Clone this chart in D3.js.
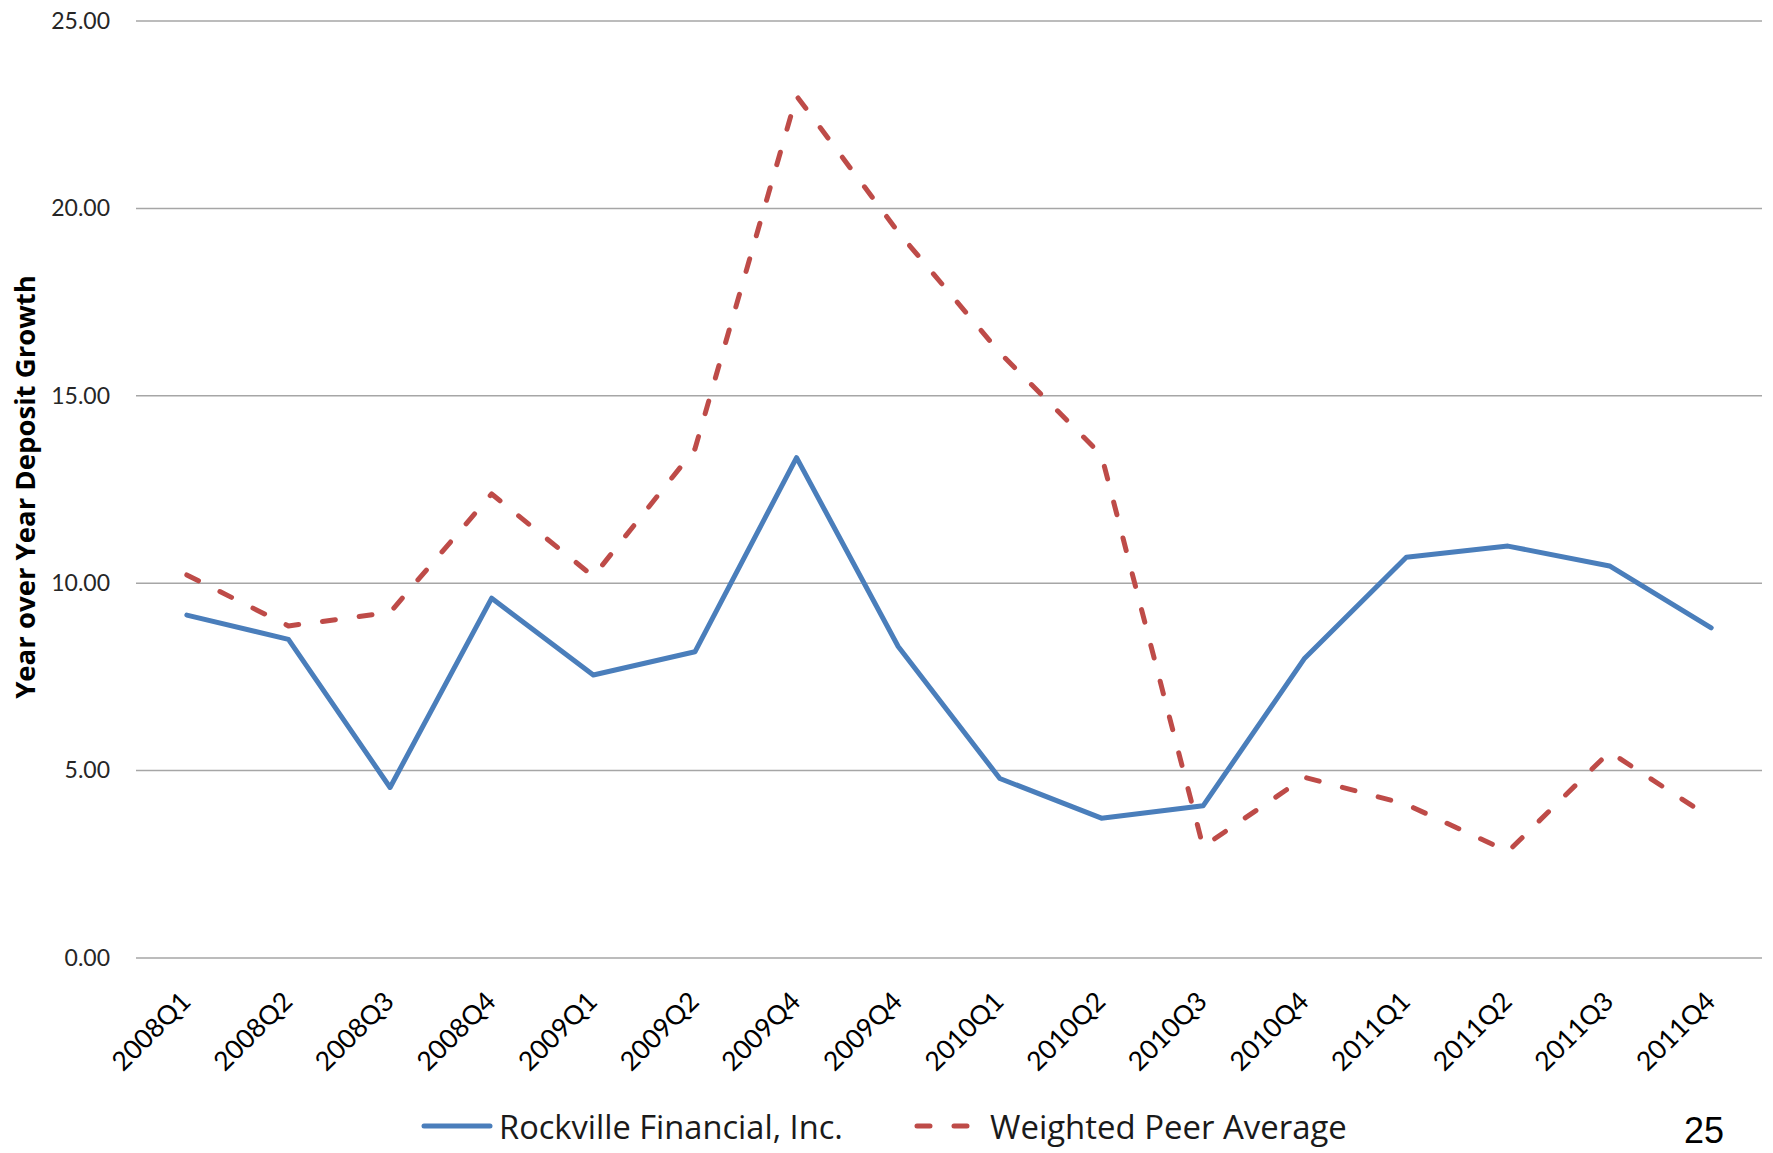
<!DOCTYPE html>
<html>
<head>
<meta charset="utf-8">
<script src="https://cdn.jsdelivr.net/npm/d3@7"></script>
<style>
  html, body { margin: 0; padding: 0; background: #fff; }
  svg { display: block; }
</style>
</head>
<body>
<svg id="chart" width="1773" height="1153"></svg>
<script>
// Quarter labels along the x axis (2009Q4 appears twice in the source series)
const quarters = ["2008Q1","2008Q2","2008Q3","2008Q4","2009Q1","2009Q2","2009Q4","2009Q4",
                  "2010Q1","2010Q2","2010Q3","2010Q4","2011Q1","2011Q2","2011Q3","2011Q4"];

// Year-over-year deposit growth, percent
const rockville = [9.15, 8.50, 4.55, 9.60, 7.55, 8.17, 13.35, 8.31,
                   4.79, 3.73, 4.06, 8.00, 10.69, 10.99, 10.46, 8.81];
const peerAverage = [10.22, 8.86, 9.22, 12.38, 10.18, 13.58, 23.00, 19.37,
                     16.15, 13.42, 2.97, 4.82, 4.10, 2.84, 5.50, 3.73];

const yTicks = [0, 5, 10, 15, 20, 25];

const seriesNames = ["Rockville Financial, Inc.", "Weighted Peer Average"];
const pageNumber = "25";

const svg = d3.select("#chart");
const font = "Lato, 'Open Sans', sans-serif";
const wideFont = "'Open Sans', Lato, sans-serif";

// Scale a text's font size so that it spans the given width
function fitWidth(sel, width) {
  const node = sel.node();
  const size = parseFloat(sel.attr("font-size"));
  const len = node.getComputedTextLength();
  if (len > 0) sel.attr("font-size", (size * width / len).toFixed(2));
  return sel;
}

const plot = { left: 136, right: 1762, top: 21, bottom: 958 };

const x = d3.scalePoint()
  .domain(d3.range(quarters.length))
  .range([plot.left, plot.right])
  .padding(0.5);

const y = d3.scaleLinear()
  .domain([0, 25])
  .range([plot.bottom, plot.top]);

// Horizontal gridlines
svg.append("g")
  .selectAll("line")
  .data(yTicks)
  .join("line")
  .attr("x1", plot.left)
  .attr("x2", plot.right)
  .attr("y1", d => y(d))
  .attr("y2", d => y(d))
  .attr("stroke", "#a6a6a6")
  .attr("stroke-width", 1.5);

// Y axis tick labels
const yAxis = svg.append("g")
  .attr("transform", `translate(${plot.left - 26},0)`)
  .call(d3.axisLeft(y).tickValues(yTicks).tickFormat(d3.format(".2f")).tickSize(0).tickPadding(0));
yAxis.select(".domain").remove();
yAxis.selectAll("text")
  .attr("font-family", font)
  .attr("font-size", 23)
  .attr("fill", "#262626");

// X axis category labels, rotated
const xAxis = svg.append("g")
  .attr("transform", `translate(0,${plot.bottom})`)
  .call(d3.axisBottom(x).tickFormat(i => quarters[i]).tickSize(0).tickPadding(0));
xAxis.select(".domain").remove();
xAxis.selectAll("text")
  .attr("font-family", font)
  .attr("font-size", 26.5)
  .attr("fill", "#000")
  .attr("text-anchor", "end")
  .attr("dy", null)
  .attr("dominant-baseline", "central")
  .attr("transform", "translate(-2,38) rotate(-45)");

// Y axis title
const yTitle = svg.append("text")
  .attr("transform", `translate(35,487) rotate(-90)`)
  .attr("text-anchor", "middle")
  .attr("font-family", wideFont)
  .attr("font-weight", "bold")
  .attr("font-size", 24)
  .attr("fill", "#000")
  .text("Year over Year Deposit Growth");
fitWidth(yTitle, 424);

const line = d3.line()
  .x((d, i) => x(i))
  .y(d => y(d));

// Peer average (dashed) and Rockville (solid)
svg.append("path")
  .datum(peerAverage)
  .attr("d", line)
  .attr("fill", "none")
  .attr("stroke", "#be4b48")
  .attr("stroke-width", 5)
  .attr("stroke-dasharray", "13,24")
  .attr("stroke-linecap", "round")
  .attr("stroke-linejoin", "round");

svg.append("path")
  .datum(rockville)
  .attr("d", line)
  .attr("fill", "none")
  .attr("stroke", "#4a7ebb")
  .attr("stroke-width", 5)
  .attr("stroke-linecap", "round")
  .attr("stroke-linejoin", "round");

// Legend
const legendY = 1126;
const legend = svg.append("g");
legend.append("line")
  .attr("x1", 424).attr("x2", 490)
  .attr("y1", legendY).attr("y2", legendY)
  .attr("stroke", "#4a7ebb").attr("stroke-width", 5).attr("stroke-linecap", "round");
const leg1 = legend.append("text")
  .attr("x", 499).attr("y", legendY)
  .attr("dominant-baseline", "central")
  .attr("font-family", wideFont).attr("font-size", 28).attr("fill", "#1a1a1a")
  .text(seriesNames[0]);
fitWidth(leg1, 344);
legend.append("line")
  .attr("x1", 917).attr("x2", 970)
  .attr("y1", legendY).attr("y2", legendY)
  .attr("stroke", "#be4b48").attr("stroke-width", 5)
  .attr("stroke-dasharray", "13,24").attr("stroke-linecap", "round");
const leg2 = legend.append("text")
  .attr("x", 990).attr("y", legendY)
  .attr("dominant-baseline", "central")
  .attr("font-family", wideFont).attr("font-size", 28).attr("fill", "#1a1a1a")
  .text(seriesNames[1]);
fitWidth(leg2, 357);

// Slide page number
svg.append("text")
  .attr("x", 1724).attr("y", 1143)
  .attr("text-anchor", "end")
  .attr("font-family", "'Liberation Sans', Arial, sans-serif")
  .attr("font-size", 36)
  .attr("fill", "#000")
  .text(pageNumber);
</script>
</body>
</html>
